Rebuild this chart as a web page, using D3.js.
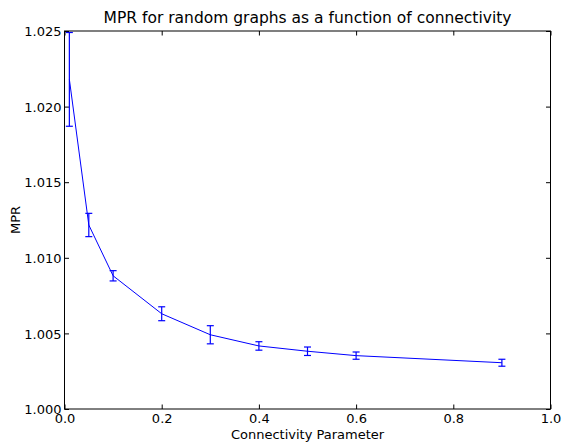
<!DOCTYPE html>
<html><head><meta charset="utf-8">
<script src="https://cdn.jsdelivr.net/npm/d3@7/dist/d3.min.js"></script>
<style>body{margin:0;background:#fff;} text{font-family:"DejaVu Sans",sans-serif;}</style>
</head><body>
<svg id="c" width="563" height="443"></svg>
<script>
const xs = [0.01, 0.05, 0.1, 0.2, 0.3, 0.4, 0.5, 0.6, 0.9];
const means = [1.0218, 1.01217, 1.00881, 1.00630, 1.00491, 1.00417, 1.00382, 1.00353, 1.00306];
const errs = [0.0031, 0.00077, 0.00034, 0.00046, 0.00060, 0.00028, 0.00028, 0.00024, 0.00023];
const xTicks = [0, 0.2, 0.4, 0.6, 0.8, 1.0];
const yTicks = [1.000, 1.005, 1.010, 1.015, 1.020, 1.025];
const title = "MPR for random graphs as a function of connectivity";
const xLabel = "Connectivity Parameter";
const yLabel = "MPR";

const L = 64.5, R = 550.5, T = 31, B = 409;
const svg = d3.select("#c");
const x = d3.scaleLinear().domain([0, 1]).range([L, R]);
const y = d3.scaleLinear().domain([1.000, 1.025]).range([B, T]);

const tl = 4.5;
const fs = 13;
const gx = svg.append("g").attr("transform", `translate(0,${B})`)
  .call(d3.axisBottom(x).tickValues(xTicks).tickFormat(d3.format(".1f")).tickSizeInner(-tl).tickSizeOuter(0));
const gxt = svg.append("g").attr("transform", `translate(0,${T})`)
  .call(d3.axisTop(x).tickValues(xTicks).tickFormat("").tickSizeInner(-tl).tickSizeOuter(0));
const gy = svg.append("g").attr("transform", `translate(${L},0)`)
  .call(d3.axisLeft(y).tickValues(yTicks).tickFormat(d3.format(".3f")).tickSizeInner(-tl).tickSizeOuter(0));
const gyr = svg.append("g").attr("transform", `translate(${R},0)`)
  .call(d3.axisRight(y).tickValues(yTicks).tickFormat("").tickSizeInner(-tl).tickSizeOuter(0));
[gx, gxt, gy, gyr].forEach(g => {
  g.select(".domain").remove();
  g.selectAll("line").attr("stroke", "#000").attr("stroke-width", 1);
  g.selectAll("text").attr("font-size", fs).attr("fill", "#000").style("font-family", "DejaVu Sans");
});
gx.selectAll("text").attr("dy", null).attr("y", 14);
gy.selectAll("text").attr("x", -3).attr("dy", "0.36em");

svg.append("rect").attr("x", L).attr("y", T).attr("width", R - L).attr("height", B - T)
  .attr("fill", "none").attr("stroke", "#000").attr("stroke-width", 1);

const data = xs.map((d, i) => ({x: d, m: means[i], e: errs[i]}));
svg.append("path").datum(data)
  .attr("d", d3.line().x(d => x(d.x)).y(d => y(d.m)))
  .attr("fill", "none").attr("stroke", "#0000ff").attr("stroke-width", 1);

const eb = svg.append("g").attr("stroke", "#0000ff").attr("stroke-width", 1.2).attr("fill", "none");
const cw = 3.5;
data.forEach(d => {
  const x0 = x(d.x), y1 = y(d.m + d.e), y2 = y(d.m - d.e);
  eb.append("line").attr("x1", x0).attr("x2", x0).attr("y1", y1).attr("y2", y2);
  eb.append("line").attr("x1", x0 - cw).attr("x2", x0 + cw).attr("y1", y1).attr("y2", y1);
  eb.append("line").attr("x1", x0 - cw).attr("x2", x0 + cw).attr("y1", y2).attr("y2", y2);
});

svg.append("text").attr("x", (L + R) / 2).attr("y", 23).attr("text-anchor", "middle")
  .attr("font-size", 15.5).text(title);
svg.append("text").attr("x", (L + R) / 2).attr("y", 439).attr("text-anchor", "middle")
  .attr("font-size", fs).text(xLabel);
svg.append("text").attr("transform", `translate(20,${(T + B) / 2}) rotate(-90)`).attr("text-anchor", "middle")
  .attr("font-size", fs).text(yLabel);
</script>
</body></html>
